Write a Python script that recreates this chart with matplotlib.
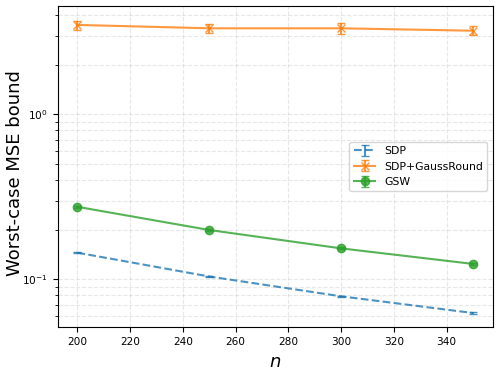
import matplotlib

matplotlib.use("Agg")
import matplotlib.pyplot as plt
import numpy as np

n_vals = [200, 250, 300, 350]
sdp_mean = [0.145, 0.104, 0.0789, 0.0625]
sdp_err = [0.001, 0.0008, 0.0006, 0.0005]
gauss_mean = [3.48, 3.32, 3.32, 3.21]
gauss_err = [0.22, 0.22, 0.26, 0.20]
gsw_mean = [0.275, 0.199, 0.154, 0.124]
gsw_err = [0.004, 0.003, 0.002, 0.002]

fig = plt.figure(figsize=(4.99, 3.71), dpi=100)
ax = fig.add_axes([0.1156, 0.1178, 0.8718, 0.8668])

ax.errorbar(n_vals, sdp_mean, yerr=sdp_err, ls="--", capsize=3, color="tab:blue",
            alpha=0.8, label="SDP")
ax.errorbar(n_vals, gauss_mean, yerr=gauss_err, marker="x", capsize=3, color="tab:orange",
            alpha=0.8, label="SDP+GaussRound")
ax.errorbar(n_vals, gsw_mean, yerr=gsw_err, marker="o", capsize=3, color="tab:green",
            alpha=0.8, label="GSW")

ax.set_yscale("log")
ax.set_xlim(192.5, 357.5)
ax.set_ylim(0.0512, 4.55)
ax.set_xticks(np.arange(200, 341, 20))
ax.tick_params(labelsize=7.6)
ax.set_xlabel(r"$n$", fontsize=13)
ax.set_ylabel("Worst-case MSE bound", fontsize=13)
ax.yaxis.set_label_coords(-0.078, 0.48)
ax.grid(True, which="both", ls="--", alpha=0.3)
ax.legend(loc="center right", fontsize=7.8)

fig.savefig("out.png", dpi=100)
